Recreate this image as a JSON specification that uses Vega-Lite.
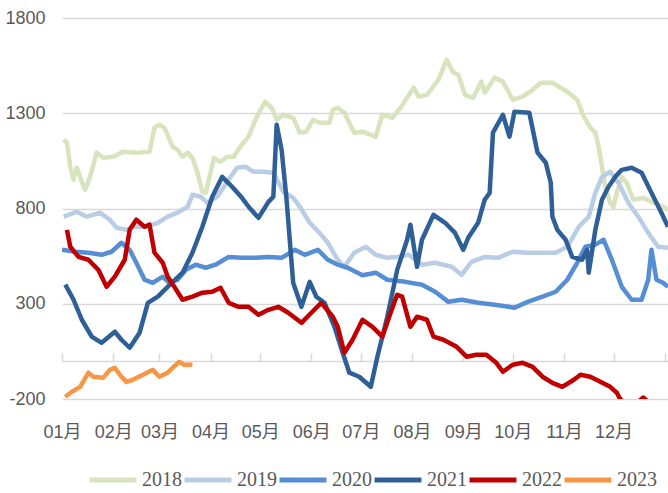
{
  "$schema": "https://vega.github.io/schema/vega-lite/v6.json",
  "width": 606,
  "height": 381,
  "autosize": "none",
  "padding": {"left": 62, "top": 18, "right": 0, "bottom": 94},
  "background": "white",
  "config": {"view": {"stroke": null}},
  "data": {"values": [
    {"year":"2018","day":1,"value":1161},{"year":"2018","day":3,"value":1145},{"year":"2018","day":5,"value":1019},{"year":"2018","day":7,"value":951},{"year":"2018","day":9,"value":1014},{"year":"2018","day":12,"value":940},{"year":"2018","day":14,"value":898},{"year":"2018","day":17,"value":966},{"year":"2018","day":21,"value":1093},{"year":"2018","day":25,"value":1066},{"year":"2018","day":31,"value":1072},{"year":"2018","day":37,"value":1098},{"year":"2018","day":45,"value":1093},{"year":"2018","day":53,"value":1098},{"year":"2018","day":56,"value":1224},{"year":"2018","day":59,"value":1240},{"year":"2018","day":62,"value":1224},{"year":"2018","day":67,"value":1124},{"year":"2018","day":70,"value":1108},{"year":"2018","day":73,"value":1072},{"year":"2018","day":76,"value":1093},{"year":"2018","day":79,"value":1066},{"year":"2018","day":82,"value":988},{"year":"2018","day":85,"value":888},{"year":"2018","day":87,"value":882},{"year":"2018","day":90,"value":988},{"year":"2018","day":92,"value":1066},{"year":"2018","day":96,"value":1045},{"year":"2018","day":100,"value":1072},{"year":"2018","day":104,"value":1072},{"year":"2018","day":108,"value":1124},{"year":"2018","day":113,"value":1177},{"year":"2018","day":118,"value":1282},{"year":"2018","day":123,"value":1360},{"year":"2018","day":127,"value":1329},{"year":"2018","day":130,"value":1266},{"year":"2018","day":134,"value":1292},{"year":"2018","day":140,"value":1276},{"year":"2018","day":144,"value":1198},{"year":"2018","day":148,"value":1203},{"year":"2018","day":152,"value":1266},{"year":"2018","day":156,"value":1250},{"year":"2018","day":162,"value":1250},{"year":"2018","day":164,"value":1318},{"year":"2018","day":167,"value":1329},{"year":"2018","day":171,"value":1303},{"year":"2018","day":177,"value":1198},{"year":"2018","day":182,"value":1203},{"year":"2018","day":190,"value":1177},{"year":"2018","day":194,"value":1292},{"year":"2018","day":200,"value":1276},{"year":"2018","day":205,"value":1329},{"year":"2018","day":213,"value":1434},{"year":"2018","day":216,"value":1387},{"year":"2018","day":221,"value":1397},{"year":"2018","day":228,"value":1476},{"year":"2018","day":233,"value":1581},{"year":"2018","day":237,"value":1513},{"year":"2018","day":240,"value":1502},{"year":"2018","day":244,"value":1397},{"year":"2018","day":249,"value":1381},{"year":"2018","day":254,"value":1466},{"year":"2018","day":256,"value":1408},{"year":"2018","day":262,"value":1487},{"year":"2018","day":267,"value":1466},{"year":"2018","day":273,"value":1371},{"year":"2018","day":279,"value":1387},{"year":"2018","day":285,"value":1423},{"year":"2018","day":290,"value":1460},{"year":"2018","day":297,"value":1460},{"year":"2018","day":302,"value":1434},{"year":"2018","day":306,"value":1413},{"year":"2018","day":312,"value":1371},{"year":"2018","day":316,"value":1282},{"year":"2018","day":320,"value":1224},{"year":"2018","day":323,"value":1198},{"year":"2018","day":325,"value":1124},{"year":"2018","day":327,"value":1019},{"year":"2018","day":329,"value":914},{"year":"2018","day":332,"value":830},{"year":"2018","day":334,"value":809},{"year":"2018","day":336,"value":882},{"year":"2018","day":339,"value":966},{"year":"2018","day":342,"value":935},{"year":"2018","day":346,"value":846},{"year":"2018","day":352,"value":856},{"year":"2018","day":358,"value":830},{"year":"2018","day":364,"value":809},{"year":"2018","day":367,"value":793},

    {"year":"2019","day":1,"value":757},{"year":"2019","day":9,"value":783},{"year":"2019","day":15,"value":757},{"year":"2019","day":23,"value":778},{"year":"2019","day":29,"value":741},{"year":"2019","day":33,"value":699},{"year":"2019","day":39,"value":688},{"year":"2019","day":43,"value":704},{"year":"2019","day":51,"value":704},{"year":"2019","day":58,"value":725},{"year":"2019","day":64,"value":757},{"year":"2019","day":70,"value":778},{"year":"2019","day":76,"value":809},{"year":"2019","day":79,"value":872},{"year":"2019","day":84,"value":862},{"year":"2019","day":88,"value":830},{"year":"2019","day":94,"value":862},{"year":"2019","day":100,"value":940},{"year":"2019","day":106,"value":1014},{"year":"2019","day":111,"value":1019},{"year":"2019","day":116,"value":993},{"year":"2019","day":122,"value":993},{"year":"2019","day":128,"value":988},{"year":"2019","day":134,"value":888},{"year":"2019","day":140,"value":856},{"year":"2019","day":144,"value":809},{"year":"2019","day":150,"value":725},{"year":"2019","day":156,"value":672},{"year":"2019","day":161,"value":620},{"year":"2019","day":167,"value":531},{"year":"2019","day":171,"value":494},{"year":"2019","day":177,"value":568},{"year":"2019","day":184,"value":599},{"year":"2019","day":190,"value":557},{"year":"2019","day":197,"value":541},{"year":"2019","day":203,"value":546},{"year":"2019","day":210,"value":557},{"year":"2019","day":218,"value":505},{"year":"2019","day":226,"value":515},{"year":"2019","day":236,"value":494},{"year":"2019","day":242,"value":452},{"year":"2019","day":248,"value":520},{"year":"2019","day":256,"value":546},{"year":"2019","day":264,"value":541},{"year":"2019","day":273,"value":573},{"year":"2019","day":282,"value":568},{"year":"2019","day":291,"value":568},{"year":"2019","day":299,"value":568},{"year":"2019","day":306,"value":599},{"year":"2019","day":313,"value":704},{"year":"2019","day":319,"value":757},{"year":"2019","day":323,"value":882},{"year":"2019","day":327,"value":966},{"year":"2019","day":332,"value":993},{"year":"2019","day":337,"value":935},{"year":"2019","day":343,"value":830},{"year":"2019","day":349,"value":757},{"year":"2019","day":355,"value":672},{"year":"2019","day":361,"value":599},{"year":"2019","day":367,"value":594},

    {"year":"2020","day":0,"value":583},{"year":"2020","day":8,"value":573},{"year":"2020","day":16,"value":568},{"year":"2020","day":24,"value":557},{"year":"2020","day":30,"value":573},{"year":"2020","day":36,"value":620},{"year":"2020","day":41,"value":583},{"year":"2020","day":45,"value":515},{"year":"2020","day":50,"value":426},{"year":"2020","day":55,"value":410},{"year":"2020","day":61,"value":442},{"year":"2020","day":65,"value":410},{"year":"2020","day":70,"value":426},{"year":"2020","day":75,"value":478},{"year":"2020","day":81,"value":505},{"year":"2020","day":87,"value":489},{"year":"2020","day":93,"value":505},{"year":"2020","day":101,"value":546},{"year":"2020","day":109,"value":541},{"year":"2020","day":117,"value":541},{"year":"2020","day":125,"value":546},{"year":"2020","day":133,"value":541},{"year":"2020","day":141,"value":583},{"year":"2020","day":147,"value":557},{"year":"2020","day":155,"value":583},{"year":"2020","day":161,"value":531},{"year":"2020","day":167,"value":505},{"year":"2020","day":173,"value":489},{"year":"2020","day":182,"value":450},{"year":"2020","day":190,"value":463},{"year":"2020","day":197,"value":426},{"year":"2020","day":208,"value":415},{"year":"2020","day":218,"value":400},{"year":"2020","day":226,"value":363},{"year":"2020","day":234,"value":310},{"year":"2020","day":242,"value":321},{"year":"2020","day":252,"value":305},{"year":"2020","day":262,"value":295},{"year":"2020","day":274,"value":279},{"year":"2020","day":282,"value":310},{"year":"2020","day":291,"value":337},{"year":"2020","day":299,"value":363},{"year":"2020","day":306,"value":426},{"year":"2020","day":312,"value":515},{"year":"2020","day":317,"value":599},{"year":"2020","day":323,"value":610},{"year":"2020","day":328,"value":636},{"year":"2020","day":333,"value":531},{"year":"2020","day":339,"value":389},{"year":"2020","day":345,"value":321},{"year":"2020","day":351,"value":321},{"year":"2020","day":355,"value":426},{"year":"2020","day":357,"value":583},{"year":"2020","day":360,"value":426},{"year":"2020","day":364,"value":410},{"year":"2020","day":367,"value":389},

    {"year":"2021","day":2,"value":400},{"year":"2021","day":7,"value":321},{"year":"2021","day":12,"value":216},{"year":"2021","day":18,"value":127},{"year":"2021","day":24,"value":95},{"year":"2021","day":32,"value":153},{"year":"2021","day":36,"value":111},{"year":"2021","day":41,"value":69},{"year":"2021","day":47,"value":148},{"year":"2021","day":52,"value":305},{"year":"2021","day":58,"value":337},{"year":"2021","day":64,"value":389},{"year":"2021","day":73,"value":463},{"year":"2021","day":79,"value":568},{"year":"2021","day":85,"value":704},{"year":"2021","day":91,"value":862},{"year":"2021","day":97,"value":966},{"year":"2021","day":103,"value":914},{"year":"2021","day":109,"value":856},{"year":"2021","day":113,"value":809},{"year":"2021","day":119,"value":751},{"year":"2021","day":125,"value":835},{"year":"2021","day":128,"value":862},{"year":"2021","day":130,"value":1240},{"year":"2021","day":133,"value":1108},{"year":"2021","day":136,"value":846},{"year":"2021","day":140,"value":410},{"year":"2021","day":145,"value":284},{"year":"2021","day":150,"value":415},{"year":"2021","day":154,"value":337},{"year":"2021","day":159,"value":305},{"year":"2021","day":165,"value":179},{"year":"2021","day":170,"value":43},{"year":"2021","day":174,"value":-62},{"year":"2021","day":180,"value":-83},{"year":"2021","day":187,"value":-136},{"year":"2021","day":191,"value":22},{"year":"2021","day":197,"value":232},{"year":"2021","day":203,"value":478},{"year":"2021","day":209,"value":636},{"year":"2021","day":211,"value":715},{"year":"2021","day":215,"value":494},{"year":"2021","day":218,"value":636},{"year":"2021","day":225,"value":767},{"year":"2021","day":232,"value":725},{"year":"2021","day":238,"value":672},{"year":"2021","day":243,"value":583},{"year":"2021","day":246,"value":646},{"year":"2021","day":252,"value":725},{"year":"2021","day":256,"value":846},{"year":"2021","day":259,"value":882},{"year":"2021","day":261,"value":1198},{"year":"2021","day":267,"value":1292},{"year":"2021","day":271,"value":1177},{"year":"2021","day":274,"value":1308},{"year":"2021","day":283,"value":1303},{"year":"2021","day":288,"value":1093},{"year":"2021","day":293,"value":1040},{"year":"2021","day":296,"value":935},{"year":"2021","day":297,"value":757},{"year":"2021","day":300,"value":688},{"year":"2021","day":305,"value":636},{"year":"2021","day":309,"value":546},{"year":"2021","day":315,"value":531},{"year":"2021","day":318,"value":583},{"year":"2021","day":319,"value":463},{"year":"2021","day":323,"value":688},{"year":"2021","day":327,"value":846},{"year":"2021","day":331,"value":914},{"year":"2021","day":335,"value":966},{"year":"2021","day":339,"value":1003},{"year":"2021","day":345,"value":1014},{"year":"2021","day":351,"value":988},{"year":"2021","day":357,"value":882},{"year":"2021","day":363,"value":778},{"year":"2021","day":367,"value":704},

    {"year":"2022","day":3,"value":688},{"year":"2022","day":5,"value":599},{"year":"2022","day":10,"value":546},{"year":"2022","day":16,"value":531},{"year":"2022","day":22,"value":478},{"year":"2022","day":27,"value":389},{"year":"2022","day":32,"value":442},{"year":"2022","day":38,"value":531},{"year":"2022","day":41,"value":688},{"year":"2022","day":45,"value":741},{"year":"2022","day":50,"value":704},{"year":"2022","day":53,"value":715},{"year":"2022","day":56,"value":568},{"year":"2022","day":61,"value":515},{"year":"2022","day":64,"value":442},{"year":"2022","day":68,"value":389},{"year":"2022","day":73,"value":321},{"year":"2022","day":79,"value":337},{"year":"2022","day":85,"value":358},{"year":"2022","day":91,"value":363},{"year":"2022","day":96,"value":384},{"year":"2022","day":101,"value":305},{"year":"2022","day":107,"value":284},{"year":"2022","day":113,"value":284},{"year":"2022","day":119,"value":242},{"year":"2022","day":125,"value":268},{"year":"2022","day":131,"value":284},{"year":"2022","day":137,"value":253},{"year":"2022","day":145,"value":200},{"year":"2022","day":151,"value":253},{"year":"2022","day":157,"value":305},{"year":"2022","day":164,"value":232},{"year":"2022","day":167,"value":179},{"year":"2022","day":171,"value":43},{"year":"2022","day":176,"value":111},{"year":"2022","day":182,"value":216},{"year":"2022","day":188,"value":179},{"year":"2022","day":194,"value":127},{"year":"2022","day":199,"value":253},{"year":"2022","day":203,"value":347},{"year":"2022","day":206,"value":337},{"year":"2022","day":211,"value":179},{"year":"2022","day":215,"value":232},{"year":"2022","day":221,"value":216},{"year":"2022","day":225,"value":127},{"year":"2022","day":231,"value":111},{"year":"2022","day":239,"value":74},{"year":"2022","day":245,"value":22},{"year":"2022","day":251,"value":32},{"year":"2022","day":257,"value":32},{"year":"2022","day":263,"value":-10},{"year":"2022","day":267,"value":-57},{"year":"2022","day":273,"value":-20},{"year":"2022","day":279,"value":-10},{"year":"2022","day":285,"value":-31},{"year":"2022","day":291,"value":-83},{"year":"2022","day":297,"value":-115},{"year":"2022","day":303,"value":-136},{"year":"2022","day":310,"value":-99},{"year":"2022","day":314,"value":-73},{"year":"2022","day":320,"value":-83},{"year":"2022","day":326,"value":-110},{"year":"2022","day":332,"value":-136},{"year":"2022","day":336,"value":-167},{"year":"2022","day":338,"value":-200},{"year":"2022","day":343,"value":-235},{"year":"2022","day":349,"value":-215},{"year":"2022","day":352,"value":-192},{"year":"2022","day":355,"value":-215},{"year":"2022","day":361,"value":-260},{"year":"2022","day":367,"value":-280},

    {"year":"2023","day":2,"value":-188},{"year":"2023","day":6,"value":-162},{"year":"2023","day":11,"value":-136},{"year":"2023","day":16,"value":-62},{"year":"2023","day":19,"value":-83},{"year":"2023","day":25,"value":-88},{"year":"2023","day":29,"value":-47},{"year":"2023","day":32,"value":-36},{"year":"2023","day":35,"value":-73},{"year":"2023","day":39,"value":-110},{"year":"2023","day":43,"value":-99},{"year":"2023","day":49,"value":-73},{"year":"2023","day":55,"value":-47},{"year":"2023","day":59,"value":-83},{"year":"2023","day":64,"value":-62},{"year":"2023","day":67,"value":-36},{"year":"2023","day":71,"value":-5},{"year":"2023","day":74,"value":-20},{"year":"2023","day":79,"value":-20}
  ]},
  "mark": {"type": "line", "strokeWidth": 4.5, "clip": true, "strokeJoin": "round"},
  "encoding": {
    "x": {
      "field": "day", "type": "quantitative",
      "scale": {"domain": [0, 367], "nice": false, "zero": false},
      "axis": {
        "title": null, "orient": "bottom", "offset": -38, "grid": false,
        "values": [0,31,59,90,120,151,181,212,243,273,304,334,365],
        "labelExpr": "['01月','02月','03月','04月','05月','06月','07月','08月','09月','10月','11月','12月',''][indexof([0,31,59,90,120,151,181,212,243,273,304,334,365], datum.value)]",
        "labelFlush": false, "labelOverlap": false,
        "domainColor": "#d9d9d9", "domainWidth": 1.5,
        "tickColor": "#d9d9d9", "tickWidth": 1.5, "tickSize": -8,
        "labelPadding": 70,
        "labelFont": "Liberation Sans, Noto Sans CJK SC",
        "labelFontSize": 18, "labelColor": "#595959"
      }
    },
    "y": {
      "field": "value", "type": "quantitative",
      "scale": {"domain": [-200, 1800], "nice": false, "zero": false},
      "axis": {
        "title": null, "values": [-200, 300, 800, 1300, 1800],
        "labelExpr": "datum.value + ''",
        "domain": false, "ticks": false,
        "gridColor": "#d9d9d9", "gridWidth": 1.5,
        "labelPadding": 17,
        "labelFont": "Liberation Sans, Noto Sans CJK SC",
        "labelFontSize": 18, "labelColor": "#595959"
      }
    },
    "color": {
      "field": "year", "type": "nominal",
      "scale": {
        "domain": ["2018","2019","2020","2021","2022","2023"],
        "range": ["#d7e4bd","#b9cde5","#558ed5","#2f5f97","#c00000","#f79646"]
      },
      "legend": {
        "title": null, "orient": "none", "direction": "horizontal",
        "legendX": 25, "legendY": 436,
        "symbolType": "stroke", "symbolSize": 2200, "symbolStrokeWidth": 5,
        "labelOffset": 3, "columnPadding": -10, "padding": 0,
        "labelFont": "Liberation Serif, DejaVu Serif", "labelFontSize": 20, "labelColor": "#595959"
      }
    }
  }
}
